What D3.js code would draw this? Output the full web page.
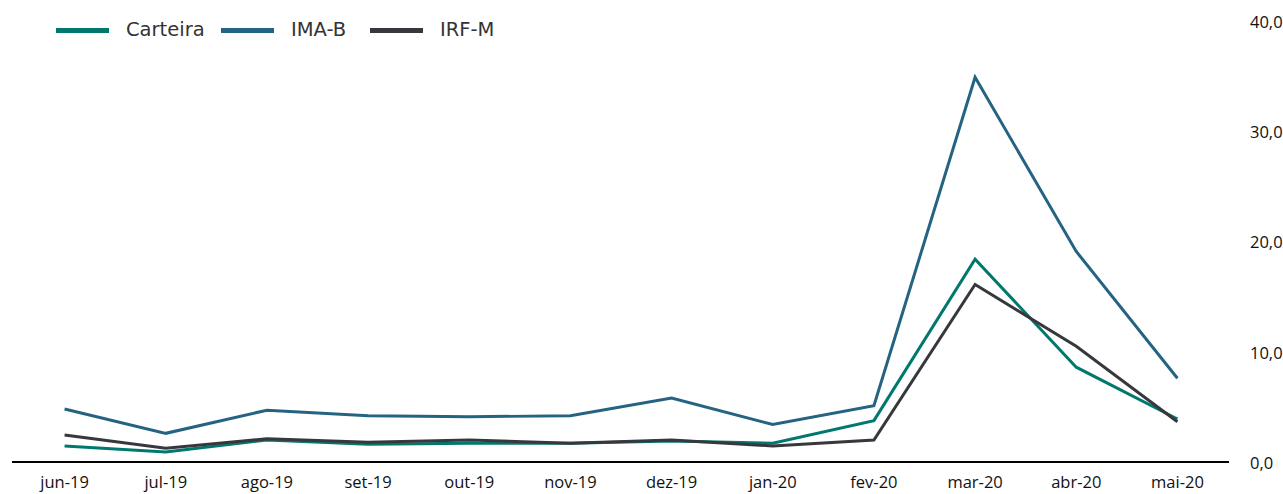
<!DOCTYPE html>
<html>
<head>
<meta charset="utf-8">
<script src="https://cdn.jsdelivr.net/npm/d3@7"></script>
<style>
  body { margin: 0; background: #fff; }
  svg { display: block; }
  .axis text { font-family: "Open Sans", sans-serif; fill: #111; }
  .axis-x text { font-size: 16.5px; }
  .axis-y text { font-size: 16.5px; }
  .legend text { font-family: "DejaVu Sans", sans-serif; font-size: 19.5px; fill: #333; }
</style>
</head>
<body>
<div id="chart"></div>
<script>
  // Months on the x-axis.
  var months = ['jun-19', 'jul-19', 'ago-19', 'set-19', 'out-19', 'nov-19',
                'dez-19', 'jan-20', 'fev-20', 'mar-20', 'abr-20', 'mai-20'];

  // Series values.
  var carteira = [1.45, 0.9, 2.0, 1.6, 1.7, 1.7, 1.9, 1.7, 3.75, 18.4, 8.6, 3.9];
  var imaB     = [4.8, 2.6, 4.7, 4.2, 4.1, 4.2, 5.8, 3.4, 5.1, 34.9, 19.1, 7.6];
  var irfM     = [2.45, 1.25, 2.1, 1.8, 2.0, 1.7, 2.0, 1.45, 2.0, 16.1, 10.5, 3.65];

  var yTicks = [0, 10, 20, 30, 40];

  var series = [
    {name: 'Carteira', values: carteira, color: '#00786e'},
    {name: 'IMA-B',    values: imaB,     color: '#256383'},
    {name: 'IRF-M',    values: irfM,     color: '#38373d'}
  ];

  var width = 1283, height = 494;
  var plotLeft = 14, plotRight = 1228, plotTop = 21, plotBottom = 462;

  var svg = d3.select('#chart').append('svg')
      .attr('width', width)
      .attr('height', height);

  var x = d3.scaleBand().domain(months).range([plotLeft, plotRight]);
  var y = d3.scaleLinear().domain([0, 40]).range([plotBottom, plotTop]);

  // Right-hand y-axis, labels only.
  var yAxis = d3.axisRight(y)
      .tickValues(yTicks)
      .tickSize(0)
      .tickPadding(0)
      .tickFormat(function(d) { return d3.format('.1f')(d).replace('.', ','); });

  svg.append('g')
      .attr('class', 'axis axis-y')
      .attr('transform', 'translate(1250,1)')
      .call(yAxis)
      .call(function(g) { g.select('.domain').remove(); });

  // Bottom x-axis: only the category labels.
  var xAxis = d3.axisBottom(x).tickSize(0).tickPadding(14);

  svg.append('g')
      .attr('class', 'axis axis-x')
      .attr('transform', 'translate(0,' + plotBottom + ')')
      .call(xAxis)
      .call(function(g) { g.select('.domain').remove(); });

  // Lines.
  var line = d3.line()
      .x(function(d, i) { return x(months[i]) + x.bandwidth() / 2; })
      .y(function(d) { return y(d); });

  svg.append('g').selectAll('path')
      .data(series)
      .enter()
      .append('path')
      .attr('fill', 'none')
      .attr('stroke', function(d) { return d.color; })
      .attr('stroke-width', 3)
      .attr('stroke-linejoin', 'miter')
      .attr('d', function(d) { return line(d.values); });

  // Baseline drawn on top of the lines.
  svg.append('line')
      .attr('x1', plotLeft - 2).attr('x2', plotRight + 1)
      .attr('y1', y(0)).attr('y2', y(0))
      .attr('stroke', '#000')
      .attr('stroke-width', 2);

  // Legend.
  var legendX = [56, 221, 370];
  var legend = svg.append('g').attr('class', 'legend');
  var items = legend.selectAll('g')
      .data(series)
      .enter()
      .append('g')
      .attr('transform', function(d, i) { return 'translate(' + legendX[i] + ',30.5)'; });

  items.append('line')
      .attr('x1', 0).attr('x2', 53)
      .attr('stroke', function(d) { return d.color; })
      .attr('stroke-width', 5);

  items.append('text')
      .attr('x', 70)
      .attr('y', 5.5)
      .text(function(d) { return d.name; });
</script>
</body>
</html>
